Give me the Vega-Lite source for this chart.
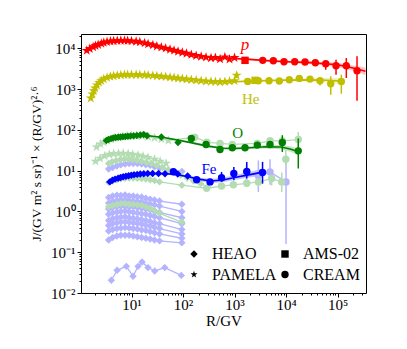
{
"$schema":"https://vega.github.io/schema/vega-lite/v6.json",
"width":285,"height":259,
"autosize":"none",
"padding":{"left":81,"top":34,"right":41,"bottom":56},
"config":{"view":{"stroke":"black","strokeWidth":1},"font":"Liberation Serif","legend":{"labelFont":"Liberation Serif"},"axis":{"labelFont":"Liberation Serif","titleFont":"Liberation Serif"},"text":{"font":"Liberation Serif"}},
"datasets":{
"pts":[
{"s":"lb1","g":"lb","e":"HEAO","R":3.6,"J":2.2},{"s":"lb1","g":"lb","e":"HEAO","R":4.3,"J":2.4},{"s":"lb1","g":"lb","e":"HEAO","R":5.2,"J":2.5},{"s":"lb1","g":"lb","e":"HEAO","R":6.2,"J":2.45},{"s":"lb1","g":"lb","e":"HEAO","R":7.5,"J":2.55},{"s":"lb1","g":"lb","e":"HEAO","R":9,"J":2.4},{"s":"lb1","g":"lb","e":"HEAO","R":10.8,"J":2.4},{"s":"lb1","g":"lb","e":"HEAO","R":13,"J":2.3},{"s":"lb1","g":"lb","e":"HEAO","R":15.7,"J":2.25},{"s":"lb1","g":"lb","e":"HEAO","R":19,"J":2.1},{"s":"lb1","g":"lb","e":"HEAO","R":23,"J":2.0},{"s":"lb1","g":"lb","e":"HEAO","R":28,"J":1.9},{"s":"lb1","g":"lb","e":"HEAO","R":35,"J":1.8},{"s":"lb1","g":"lb","e":"HEAO","R":95,"J":1.5},
{"s":"lb2","g":"lb","e":"HEAO","R":3.6,"J":1.6},{"s":"lb2","g":"lb","e":"HEAO","R":4.3,"J":1.75},{"s":"lb2","g":"lb","e":"HEAO","R":5.2,"J":1.85},{"s":"lb2","g":"lb","e":"HEAO","R":6.2,"J":1.9},{"s":"lb2","g":"lb","e":"HEAO","R":7.5,"J":1.95},{"s":"lb2","g":"lb","e":"HEAO","R":9,"J":1.85},{"s":"lb2","g":"lb","e":"HEAO","R":10.8,"J":1.8},{"s":"lb2","g":"lb","e":"HEAO","R":13,"J":1.75},{"s":"lb2","g":"lb","e":"HEAO","R":15.7,"J":1.7},{"s":"lb2","g":"lb","e":"HEAO","R":19,"J":1.6},{"s":"lb2","g":"lb","e":"HEAO","R":23,"J":1.5},{"s":"lb2","g":"lb","e":"HEAO","R":28,"J":1.45},{"s":"lb2","g":"lb","e":"HEAO","R":35,"J":1.35},{"s":"lb2","g":"lb","e":"HEAO","R":95,"J":1.0},
{"s":"lb3","g":"lb","e":"HEAO","R":3.6,"J":1.15},{"s":"lb3","g":"lb","e":"HEAO","R":4.3,"J":1.25},{"s":"lb3","g":"lb","e":"HEAO","R":5.2,"J":1.3},{"s":"lb3","g":"lb","e":"HEAO","R":6.2,"J":1.35},{"s":"lb3","g":"lb","e":"HEAO","R":7.5,"J":1.32},{"s":"lb3","g":"lb","e":"HEAO","R":9,"J":1.3},{"s":"lb3","g":"lb","e":"HEAO","R":10.8,"J":1.3},{"s":"lb3","g":"lb","e":"HEAO","R":13,"J":1.25},{"s":"lb3","g":"lb","e":"HEAO","R":15.7,"J":1.2},{"s":"lb3","g":"lb","e":"HEAO","R":19,"J":1.15},{"s":"lb3","g":"lb","e":"HEAO","R":23,"J":1.1},{"s":"lb3","g":"lb","e":"HEAO","R":28,"J":1.0},{"s":"lb3","g":"lb","e":"HEAO","R":35,"J":0.95},{"s":"lb3","g":"lb","e":"HEAO","R":95,"J":0.7},
{"s":"lb4","g":"lb","e":"HEAO","R":3.6,"J":0.85},{"s":"lb4","g":"lb","e":"HEAO","R":4.3,"J":0.92},{"s":"lb4","g":"lb","e":"HEAO","R":5.2,"J":0.97},{"s":"lb4","g":"lb","e":"HEAO","R":6.2,"J":1.0},{"s":"lb4","g":"lb","e":"HEAO","R":7.5,"J":1.02},{"s":"lb4","g":"lb","e":"HEAO","R":9,"J":0.98},{"s":"lb4","g":"lb","e":"HEAO","R":10.8,"J":0.95},{"s":"lb4","g":"lb","e":"HEAO","R":13,"J":0.92},{"s":"lb4","g":"lb","e":"HEAO","R":15.7,"J":0.88},{"s":"lb4","g":"lb","e":"HEAO","R":19,"J":0.85},{"s":"lb4","g":"lb","e":"HEAO","R":23,"J":0.8},{"s":"lb4","g":"lb","e":"HEAO","R":28,"J":0.75},{"s":"lb4","g":"lb","e":"HEAO","R":35,"J":0.7},{"s":"lb4","g":"lb","e":"HEAO","R":95,"J":0.5},
{"s":"lb5","g":"lb","e":"HEAO","R":3.6,"J":0.6},{"s":"lb5","g":"lb","e":"HEAO","R":4.3,"J":0.66},{"s":"lb5","g":"lb","e":"HEAO","R":5.2,"J":0.7},{"s":"lb5","g":"lb","e":"HEAO","R":6.2,"J":0.72},{"s":"lb5","g":"lb","e":"HEAO","R":7.5,"J":0.74},{"s":"lb5","g":"lb","e":"HEAO","R":9,"J":0.7},{"s":"lb5","g":"lb","e":"HEAO","R":10.8,"J":0.68},{"s":"lb5","g":"lb","e":"HEAO","R":13,"J":0.66},{"s":"lb5","g":"lb","e":"HEAO","R":15.7,"J":0.63},{"s":"lb5","g":"lb","e":"HEAO","R":19,"J":0.6},{"s":"lb5","g":"lb","e":"HEAO","R":23,"J":0.57},{"s":"lb5","g":"lb","e":"HEAO","R":28,"J":0.53},{"s":"lb5","g":"lb","e":"HEAO","R":35,"J":0.5},{"s":"lb5","g":"lb","e":"HEAO","R":95,"J":0.36},
{"s":"lb6","g":"lb","e":"HEAO","R":3.6,"J":0.45},{"s":"lb6","g":"lb","e":"HEAO","R":4.3,"J":0.5},{"s":"lb6","g":"lb","e":"HEAO","R":5.2,"J":0.53},{"s":"lb6","g":"lb","e":"HEAO","R":6.2,"J":0.55},{"s":"lb6","g":"lb","e":"HEAO","R":7.5,"J":0.56},{"s":"lb6","g":"lb","e":"HEAO","R":9,"J":0.54},{"s":"lb6","g":"lb","e":"HEAO","R":10.8,"J":0.53},{"s":"lb6","g":"lb","e":"HEAO","R":13,"J":0.51},{"s":"lb6","g":"lb","e":"HEAO","R":15.7,"J":0.49},{"s":"lb6","g":"lb","e":"HEAO","R":19,"J":0.46},{"s":"lb6","g":"lb","e":"HEAO","R":23,"J":0.44},{"s":"lb6","g":"lb","e":"HEAO","R":28,"J":0.41},{"s":"lb6","g":"lb","e":"HEAO","R":35,"J":0.38},{"s":"lb6","g":"lb","e":"HEAO","R":95,"J":0.28},
{"s":"lb7","g":"lb","e":"HEAO","R":3.6,"J":0.33},{"s":"lb7","g":"lb","e":"HEAO","R":4.3,"J":0.36},{"s":"lb7","g":"lb","e":"HEAO","R":5.2,"J":0.38},{"s":"lb7","g":"lb","e":"HEAO","R":6.2,"J":0.39},{"s":"lb7","g":"lb","e":"HEAO","R":7.5,"J":0.4},{"s":"lb7","g":"lb","e":"HEAO","R":9,"J":0.39},{"s":"lb7","g":"lb","e":"HEAO","R":10.8,"J":0.38},{"s":"lb7","g":"lb","e":"HEAO","R":13,"J":0.37},{"s":"lb7","g":"lb","e":"HEAO","R":15.7,"J":0.35},{"s":"lb7","g":"lb","e":"HEAO","R":19,"J":0.34},{"s":"lb7","g":"lb","e":"HEAO","R":23,"J":0.32},{"s":"lb7","g":"lb","e":"HEAO","R":28,"J":0.3},{"s":"lb7","g":"lb","e":"HEAO","R":35,"J":0.28},{"s":"lb7","g":"lb","e":"HEAO","R":95,"J":0.22},
{"s":"lb8","g":"lb","e":"HEAO","R":3.6,"J":0.2},{"s":"lb8","g":"lb","e":"HEAO","R":4.3,"J":0.23},{"s":"lb8","g":"lb","e":"HEAO","R":5.2,"J":0.25},{"s":"lb8","g":"lb","e":"HEAO","R":6.2,"J":0.26},{"s":"lb8","g":"lb","e":"HEAO","R":7.5,"J":0.26},{"s":"lb8","g":"lb","e":"HEAO","R":9,"J":0.26},{"s":"lb8","g":"lb","e":"HEAO","R":10.8,"J":0.25},{"s":"lb8","g":"lb","e":"HEAO","R":13,"J":0.24},{"s":"lb8","g":"lb","e":"HEAO","R":15.7,"J":0.23},{"s":"lb8","g":"lb","e":"HEAO","R":19,"J":0.22},{"s":"lb8","g":"lb","e":"HEAO","R":23,"J":0.21},{"s":"lb8","g":"lb","e":"HEAO","R":28,"J":0.2},{"s":"lb8","g":"lb","e":"HEAO","R":35,"J":0.19},{"s":"lb8","g":"lb","e":"HEAO","R":95,"J":0.17},
{"s":"lb9","g":"lb","e":"HEAO","R":4.06,"J":0.0205},{"s":"lb9","g":"lb","e":"HEAO","R":5.25,"J":0.036},{"s":"lb9","g":"lb","e":"HEAO","R":7.94,"J":0.045},{"s":"lb9","g":"lb","e":"HEAO","R":10.7,"J":0.0257},{"s":"lb9","g":"lb","e":"HEAO","R":13.4,"J":0.045},{"s":"lb9","g":"lb","e":"HEAO","R":16,"J":0.0577},{"s":"lb9","g":"lb","e":"HEAO","R":20.9,"J":0.042},{"s":"lb9","g":"lb","e":"HEAO","R":28.2,"J":0.0347},{"s":"lb9","g":"lb","e":"HEAO","R":44.2,"J":0.042},{"s":"lb9","g":"lb","e":"HEAO","R":92.6,"J":0.027},
{"s":"lbA","g":"lb","e":"HEAO","R":3.6,"J":11},{"s":"lbA","g":"lb","e":"HEAO","R":4.3,"J":12},{"s":"lbA","g":"lb","e":"HEAO","R":5.2,"J":13},{"s":"lbA","g":"lb","e":"HEAO","R":6.2,"J":14},{"s":"lbA","g":"lb","e":"HEAO","R":7.5,"J":14.5},{"s":"lbA","g":"lb","e":"HEAO","R":9,"J":15},{"s":"lbA","g":"lb","e":"HEAO","R":10.8,"J":15},{"s":"lbA","g":"lb","e":"HEAO","R":13,"J":15},{"s":"lbA","g":"lb","e":"HEAO","R":15.7,"J":14.5},{"s":"lbA","g":"lb","e":"HEAO","R":19,"J":14},{"s":"lbA","g":"lb","e":"HEAO","R":23,"J":13.5},{"s":"lbA","g":"lb","e":"HEAO","R":28,"J":12.5},{"s":"lbA","g":"lb","e":"HEAO","R":35,"J":11.5},{"s":"lbA","g":"lb","e":"HEAO","R":95,"J":9.5},
{"s":"lbB","g":"lb","e":"CREAM","R":1700,"J":8.5,"lo":5,"hi":14},{"s":"lbB","g":"lb","e":"CREAM","R":2900,"J":7.5,"lo":3,"hi":17.8},{"s":"lbB","g":"lb","e":"CREAM","R":4890,"J":9.3,"lo":4.5,"hi":19},{"s":"lbB","g":"lb","e":"CREAM","R":10000,"J":5.3,"lo":0.16,"hi":19},
{"s":"lgL","g":"lg","e":"HEAO","R":3.6,"J":1.3},{"s":"lgL","g":"lg","e":"HEAO","R":4.3,"J":1.4},{"s":"lgL","g":"lg","e":"HEAO","R":5.2,"J":1.5},{"s":"lgL","g":"lg","e":"HEAO","R":6.2,"J":1.55},{"s":"lgL","g":"lg","e":"HEAO","R":7.5,"J":1.55},{"s":"lgL","g":"lg","e":"HEAO","R":9,"J":1.5},{"s":"lgL","g":"lg","e":"HEAO","R":10.8,"J":1.5},{"s":"lgL","g":"lg","e":"HEAO","R":13,"J":1.45},{"s":"lgL","g":"lg","e":"HEAO","R":15.7,"J":1.4},{"s":"lgL","g":"lg","e":"HEAO","R":19,"J":1.3},{"s":"lgL","g":"lg","e":"HEAO","R":23,"J":1.2},{"s":"lgL","g":"lg","e":"HEAO","R":28,"J":1.05},{"s":"lgL","g":"lg","e":"HEAO","R":35,"J":0.9},{"s":"lgL","g":"lg","e":"HEAO","R":95,"J":0.55},
{"s":"lgD","g":"lg","e":"HEAO","R":3.6,"J":5.2},{"s":"lgD","g":"lg","e":"HEAO","R":4.3,"J":5.6},{"s":"lgD","g":"lg","e":"HEAO","R":5.2,"J":6.0},{"s":"lgD","g":"lg","e":"HEAO","R":6.2,"J":6.3},{"s":"lgD","g":"lg","e":"HEAO","R":7.5,"J":6.5},{"s":"lgD","g":"lg","e":"HEAO","R":9,"J":6.6},{"s":"lgD","g":"lg","e":"HEAO","R":10.8,"J":6.6},{"s":"lgD","g":"lg","e":"HEAO","R":13,"J":6.5},{"s":"lgD","g":"lg","e":"HEAO","R":15.7,"J":6.4},{"s":"lgD","g":"lg","e":"HEAO","R":19,"J":6.2},{"s":"lgD","g":"lg","e":"HEAO","R":23,"J":6.0},{"s":"lgD","g":"lg","e":"HEAO","R":28,"J":5.7},{"s":"lgD","g":"lg","e":"HEAO","R":35,"J":5.3},{"s":"lgD","g":"lg","e":"HEAO","R":95,"J":4.4},
{"s":"lgD","g":"lg","e":"CREAM","R":288,"J":3.7},{"s":"lgD","g":"lg","e":"CREAM","R":560,"J":4.2},{"s":"lgD","g":"lg","e":"CREAM","R":950,"J":4.5,"lo":3.8,"hi":5.3},{"s":"lgD","g":"lg","e":"CREAM","R":1730,"J":4.9,"lo":4.0,"hi":6.0},{"s":"lgD","g":"lg","e":"CREAM","R":2900,"J":5.3,"lo":3.9,"hi":7.2},{"s":"lgD","g":"lg","e":"CREAM","R":5270,"J":6.4,"lo":4.3,"hi":9.5},{"s":"lgD","g":"lg","e":"CREAM","R":8260,"J":5.3,"lo":3.0,"hi":9.0},
{"s":"lgA","g":"lg","e":"PAMELA","R":2.0,"J":17},{"s":"lgA","g":"lg","e":"PAMELA","R":2.45,"J":20},{"s":"lgA","g":"lg","e":"PAMELA","R":3.0,"J":23},{"s":"lgA","g":"lg","e":"PAMELA","R":3.7,"J":25},{"s":"lgA","g":"lg","e":"PAMELA","R":4.5,"J":26},{"s":"lgA","g":"lg","e":"PAMELA","R":5.6,"J":26.5},{"s":"lgA","g":"lg","e":"PAMELA","R":6.9,"J":26.5},{"s":"lgA","g":"lg","e":"PAMELA","R":8.6,"J":26},{"s":"lgA","g":"lg","e":"PAMELA","R":10.6,"J":25},{"s":"lgA","g":"lg","e":"PAMELA","R":13.4,"J":24},{"s":"lgA","g":"lg","e":"PAMELA","R":16.8,"J":22.5},{"s":"lgA","g":"lg","e":"PAMELA","R":21,"J":21},{"s":"lgA","g":"lg","e":"PAMELA","R":28,"J":19},{"s":"lgA","g":"lg","e":"PAMELA","R":36,"J":17},{"s":"lgA","g":"lg","e":"PAMELA","R":47,"J":15},
{"s":"lgB","g":"lg","e":"HEAO","R":3.6,"J":15},{"s":"lgB","g":"lg","e":"HEAO","R":4.2,"J":16.5},{"s":"lgB","g":"lg","e":"HEAO","R":5.0,"J":17.5},{"s":"lgB","g":"lg","e":"HEAO","R":6.0,"J":18.5},{"s":"lgB","g":"lg","e":"HEAO","R":7.2,"J":19},{"s":"lgB","g":"lg","e":"HEAO","R":8.7,"J":19},{"s":"lgB","g":"lg","e":"HEAO","R":10.5,"J":18.5},{"s":"lgB","g":"lg","e":"HEAO","R":12.8,"J":18},{"s":"lgB","g":"lg","e":"HEAO","R":15.7,"J":17},{"s":"lgB","g":"lg","e":"HEAO","R":19.5,"J":16},{"s":"lgB","g":"lg","e":"HEAO","R":24.5,"J":15},{"s":"lgB","g":"lg","e":"HEAO","R":31,"J":13.5},{"s":"lgB","g":"lg","e":"HEAO","R":40,"J":12},{"s":"lgB","g":"lg","e":"HEAO","R":52,"J":10.5},{"s":"lgB","g":"lg","e":"HEAO","R":68,"J":9},{"s":"lgB","g":"lg","e":"HEAO","R":90,"J":7.8},{"s":"lgB","g":"lg","e":"HEAO","R":120,"J":6.6},{"s":"lgB","g":"lg","e":"HEAO","R":160,"J":5.6},{"s":"lgB","g":"lg","e":"HEAO","R":220,"J":4.8},{"s":"lgB","g":"lg","e":"HEAO","R":300,"J":4.0},
{"s":"lgC","g":"lg","e":"PAMELA","R":2.1,"J":38},{"s":"lgC","g":"lg","e":"PAMELA","R":2.5,"J":45},{"s":"lgC","g":"lg","e":"PAMELA","R":2.9,"J":50},{"s":"lgC","g":"lg","e":"PAMELA","R":3.4,"J":55},{"s":"lgC","g":"lg","e":"PAMELA","R":4.0,"J":59},{"s":"lgC","g":"lg","e":"PAMELA","R":4.7,"J":63},{"s":"lgC","g":"lg","e":"PAMELA","R":5.6,"J":66},{"s":"lgC","g":"lg","e":"PAMELA","R":6.7,"J":69},{"s":"lgC","g":"lg","e":"PAMELA","R":8.2,"J":71},{"s":"lgC","g":"lg","e":"PAMELA","R":10,"J":72},{"s":"lgC","g":"lg","e":"PAMELA","R":12.5,"J":72},{"s":"lgC","g":"lg","e":"PAMELA","R":16,"J":71},{"s":"lgC","g":"lg","e":"PAMELA","R":21,"J":68},{"s":"lgC","g":"lg","e":"PAMELA","R":28,"J":64},{"s":"lgC","g":"lg","e":"PAMELA","R":38,"J":60},{"s":"lgC","g":"lg","e":"PAMELA","R":52,"J":55},
{"s":"lgC","g":"lg","e":"CREAM","R":169,"J":66},{"s":"lgC","g":"lg","e":"CREAM","R":290,"J":50},{"s":"lgC","g":"lg","e":"CREAM","R":523,"J":46.5},{"s":"lgC","g":"lg","e":"CREAM","R":906,"J":44},{"s":"lgC","g":"lg","e":"CREAM","R":2770,"J":46.5},{"s":"lgC","g":"lg","e":"CREAM","R":4890,"J":54},{"s":"lgC","g":"lg","e":"CREAM","R":8470,"J":54},{"s":"lgC","g":"lg","e":"CREAM","R":17300,"J":58,"lo":26,"hi":89},
{"s":"lgE","g":"lg","e":"CREAM","R":9900,"J":19,"lo":13,"hi":32},
{"s":"p1","g":"p","e":"PAMELA","R":1.35,"J":8800},{"s":"p1","g":"p","e":"PAMELA","R":1.55,"J":9800},{"s":"p1","g":"p","e":"PAMELA","R":1.8,"J":10800},{"s":"p1","g":"p","e":"PAMELA","R":2.0,"J":11600},{"s":"p1","g":"p","e":"PAMELA","R":2.25,"J":12300},{"s":"p1","g":"p","e":"PAMELA","R":2.6,"J":13100},{"s":"p1","g":"p","e":"PAMELA","R":2.9,"J":13800},{"s":"p1","g":"p","e":"PAMELA","R":3.35,"J":14400},{"s":"p1","g":"p","e":"PAMELA","R":3.9,"J":14900},{"s":"p1","g":"p","e":"PAMELA","R":4.5,"J":15200},{"s":"p1","g":"p","e":"PAMELA","R":5.3,"J":15400},{"s":"p1","g":"p","e":"PAMELA","R":6.2,"J":15500},{"s":"p1","g":"p","e":"PAMELA","R":7.3,"J":15500},{"s":"p1","g":"p","e":"PAMELA","R":8.4,"J":15400},{"s":"p1","g":"p","e":"PAMELA","R":10,"J":15100},{"s":"p1","g":"p","e":"PAMELA","R":12.3,"J":14700},{"s":"p1","g":"p","e":"PAMELA","R":14.5,"J":14200},{"s":"p1","g":"p","e":"PAMELA","R":18,"J":13500},{"s":"p1","g":"p","e":"PAMELA","R":21,"J":12800},{"s":"p1","g":"p","e":"PAMELA","R":26,"J":12100},{"s":"p1","g":"p","e":"PAMELA","R":31,"J":11300},{"s":"p1","g":"p","e":"PAMELA","R":38,"J":10600},{"s":"p1","g":"p","e":"PAMELA","R":46,"J":10000},{"s":"p1","g":"p","e":"PAMELA","R":56,"J":9400},{"s":"p1","g":"p","e":"PAMELA","R":67,"J":8900},{"s":"p1","g":"p","e":"PAMELA","R":80,"J":8400},{"s":"p1","g":"p","e":"PAMELA","R":97,"J":7900},{"s":"p1","g":"p","e":"PAMELA","R":117,"J":7500},{"s":"p1","g":"p","e":"PAMELA","R":145,"J":7000},{"s":"p1","g":"p","e":"PAMELA","R":180,"J":6600},{"s":"p1","g":"p","e":"PAMELA","R":225,"J":6300},{"s":"p1","g":"p","e":"PAMELA","R":280,"J":6000},{"s":"p1","g":"p","e":"PAMELA","R":350,"J":5800},{"s":"p1","g":"p","e":"PAMELA","R":425,"J":5900},{"s":"p1","g":"p","e":"PAMELA","R":525,"J":5500},{"s":"p1","g":"p","e":"PAMELA","R":650,"J":6100},{"s":"p1","g":"p","e":"PAMELA","R":800,"J":5400},{"s":"p1","g":"p","e":"PAMELA","R":1000,"J":5900},
{"s":"p2","g":"p","e":"AMS-02","R":1600,"J":5070},
{"s":"p3","g":"p","e":"CREAM","R":3530,"J":5070},{"s":"p3","g":"p","e":"CREAM","R":5670,"J":4960},{"s":"p3","g":"p","e":"CREAM","R":9140,"J":4690},{"s":"p3","g":"p","e":"CREAM","R":14750,"J":4690},{"s":"p3","g":"p","e":"CREAM","R":23400,"J":4600},{"s":"p3","g":"p","e":"CREAM","R":37100,"J":4430,"lo":3800,"hi":5070},{"s":"p3","g":"p","e":"CREAM","R":59000,"J":4190,"lo":2980,"hi":4800},{"s":"p3","g":"p","e":"CREAM","R":93500,"J":3740,"lo":2250,"hi":5250},{"s":"p3","g":"p","e":"CREAM","R":148000,"J":3740,"lo":1870,"hi":5770},{"s":"p3","g":"p","e":"CREAM","R":239000,"J":2820,"lo":520,"hi":6360},
{"s":"He1","g":"He","e":"PAMELA","R":1.62,"J":600},{"s":"He1","g":"He","e":"PAMELA","R":1.74,"J":750},{"s":"He1","g":"He","e":"PAMELA","R":1.85,"J":900},{"s":"He1","g":"He","e":"PAMELA","R":1.96,"J":1050},{"s":"He1","g":"He","e":"PAMELA","R":2.13,"J":1250},{"s":"He1","g":"He","e":"PAMELA","R":2.35,"J":1450},{"s":"He1","g":"He","e":"PAMELA","R":2.58,"J":1600},{"s":"He1","g":"He","e":"PAMELA","R":2.9,"J":1780},{"s":"He1","g":"He","e":"PAMELA","R":3.35,"J":1920},{"s":"He1","g":"He","e":"PAMELA","R":3.9,"J":2030},{"s":"He1","g":"He","e":"PAMELA","R":4.5,"J":2100},{"s":"He1","g":"He","e":"PAMELA","R":5.3,"J":2170},{"s":"He1","g":"He","e":"PAMELA","R":6.2,"J":2210},{"s":"He1","g":"He","e":"PAMELA","R":7.3,"J":2240},{"s":"He1","g":"He","e":"PAMELA","R":8.4,"J":2250},{"s":"He1","g":"He","e":"PAMELA","R":10,"J":2260},{"s":"He1","g":"He","e":"PAMELA","R":12.3,"J":2250},{"s":"He1","g":"He","e":"PAMELA","R":14.5,"J":2240},{"s":"He1","g":"He","e":"PAMELA","R":18,"J":2210},{"s":"He1","g":"He","e":"PAMELA","R":21,"J":2180},{"s":"He1","g":"He","e":"PAMELA","R":26,"J":2140},{"s":"He1","g":"He","e":"PAMELA","R":31,"J":2100},{"s":"He1","g":"He","e":"PAMELA","R":38,"J":2050},{"s":"He1","g":"He","e":"PAMELA","R":46,"J":2000},{"s":"He1","g":"He","e":"PAMELA","R":56,"J":1950},{"s":"He1","g":"He","e":"PAMELA","R":67,"J":1900},{"s":"He1","g":"He","e":"PAMELA","R":80,"J":1850},{"s":"He1","g":"He","e":"PAMELA","R":97,"J":1800},{"s":"He1","g":"He","e":"PAMELA","R":117,"J":1750},{"s":"He1","g":"He","e":"PAMELA","R":145,"J":1700},{"s":"He1","g":"He","e":"PAMELA","R":180,"J":1650},{"s":"He1","g":"He","e":"PAMELA","R":225,"J":1600},{"s":"He1","g":"He","e":"PAMELA","R":280,"J":1560},{"s":"He1","g":"He","e":"PAMELA","R":350,"J":1530},{"s":"He1","g":"He","e":"PAMELA","R":425,"J":1510},{"s":"He1","g":"He","e":"PAMELA","R":525,"J":1500},{"s":"He1","g":"He","e":"PAMELA","R":650,"J":1520},{"s":"He1","g":"He","e":"PAMELA","R":800,"J":1550},{"s":"He1","g":"He","e":"PAMELA","R":1000,"J":1600},{"s":"He1","g":"He","e":"PAMELA","R":1100,"J":2170,"lo":1850,"hi":2600},
{"s":"He2","g":"He","e":"AMS-02","R":2500,"J":1640},
{"s":"He3","g":"He","e":"CREAM","R":1800,"J":1546},{"s":"He3","g":"He","e":"CREAM","R":2900,"J":1600},{"s":"He3","g":"He","e":"CREAM","R":4680,"J":1600},{"s":"He3","g":"He","e":"CREAM","R":7410,"J":1573},{"s":"He3","g":"He","e":"CREAM","R":11600,"J":1690},{"s":"He3","g":"He","e":"CREAM","R":18100,"J":1830},{"s":"He3","g":"He","e":"CREAM","R":29200,"J":1760,"lo":1490,"hi":2050},{"s":"He3","g":"He","e":"CREAM","R":45700,"J":1600,"lo":1230,"hi":1940},{"s":"He3","g":"He","e":"CREAM","R":73800,"J":1349,"lo":725,"hi":2050},{"s":"He3","g":"He","e":"CREAM","R":118600,"J":1546,"lo":770,"hi":2250},
{"s":"O1","g":"O","e":"HEAO","R":3.25,"J":55},{"s":"O1","g":"O","e":"HEAO","R":3.6,"J":58},{"s":"O1","g":"O","e":"HEAO","R":4.0,"J":61},{"s":"O1","g":"O","e":"HEAO","R":4.4,"J":63},{"s":"O1","g":"O","e":"HEAO","R":4.9,"J":65},{"s":"O1","g":"O","e":"HEAO","R":5.5,"J":66},{"s":"O1","g":"O","e":"HEAO","R":6.1,"J":67},{"s":"O1","g":"O","e":"HEAO","R":6.8,"J":68},{"s":"O1","g":"O","e":"HEAO","R":7.6,"J":69},{"s":"O1","g":"O","e":"HEAO","R":8.5,"J":70},{"s":"O1","g":"O","e":"HEAO","R":9.6,"J":71},{"s":"O1","g":"O","e":"HEAO","R":11,"J":72},{"s":"O1","g":"O","e":"HEAO","R":12.7,"J":73},{"s":"O1","g":"O","e":"HEAO","R":14.8,"J":75},{"s":"O1","g":"O","e":"HEAO","R":17.3,"J":77},{"s":"O1","g":"O","e":"HEAO","R":20,"J":72},{"s":"O1","g":"O","e":"HEAO","R":38,"J":67},{"s":"O1","g":"O","e":"HEAO","R":80,"J":49},
{"s":"O3","g":"O","e":"CREAM","R":145,"J":61.7},{"s":"O3","g":"O","e":"CREAM","R":280,"J":43.9},{"s":"O3","g":"O","e":"CREAM","R":523,"J":33.1},{"s":"O3","g":"O","e":"CREAM","R":906,"J":36.4},{"s":"O3","g":"O","e":"CREAM","R":1600,"J":36.4},{"s":"O3","g":"O","e":"CREAM","R":2770,"J":42.3,"lo":38,"hi":47},{"s":"O3","g":"O","e":"CREAM","R":4890,"J":43.9,"lo":38,"hi":51},{"s":"O3","g":"O","e":"CREAM","R":8470,"J":49.2,"lo":28.8,"hi":74},{"s":"O3","g":"O","e":"CREAM","R":17300,"J":30.6,"lo":11.3,"hi":61.5},
{"s":"Fe1","g":"Fe","e":"HEAO","R":3.8,"J":5.3},{"s":"Fe1","g":"Fe","e":"HEAO","R":4.25,"J":5.8},{"s":"Fe1","g":"Fe","e":"HEAO","R":4.8,"J":6.2},{"s":"Fe1","g":"Fe","e":"HEAO","R":5.5,"J":6.5},{"s":"Fe1","g":"Fe","e":"HEAO","R":6.15,"J":6.8},{"s":"Fe1","g":"Fe","e":"HEAO","R":6.9,"J":7.1},{"s":"Fe1","g":"Fe","e":"HEAO","R":7.8,"J":7.3},{"s":"Fe1","g":"Fe","e":"HEAO","R":8.8,"J":7.5},{"s":"Fe1","g":"Fe","e":"HEAO","R":9.9,"J":7.7},{"s":"Fe1","g":"Fe","e":"HEAO","R":11.2,"J":7.9},{"s":"Fe1","g":"Fe","e":"HEAO","R":12.9,"J":8.1},{"s":"Fe1","g":"Fe","e":"HEAO","R":14.8,"J":8.3},{"s":"Fe1","g":"Fe","e":"HEAO","R":17.3,"J":8.4},{"s":"Fe1","g":"Fe","e":"HEAO","R":20.7,"J":8.5},{"s":"Fe1","g":"Fe","e":"HEAO","R":25.7,"J":8.5},{"s":"Fe1","g":"Fe","e":"HEAO","R":33.5,"J":8.5},{"s":"Fe1","g":"Fe","e":"HEAO","R":44.7,"J":8.4},{"s":"Fe1","g":"Fe","e":"HEAO","R":79,"J":8.3},{"s":"Fe1","g":"Fe","e":"HEAO","R":123,"J":7.4},
{"s":"Fe3","g":"Fe","e":"CREAM","R":65,"J":9.4},{"s":"Fe3","g":"Fe","e":"CREAM","R":184,"J":6.0},{"s":"Fe3","g":"Fe","e":"CREAM","R":335,"J":5.3,"lo":4.7,"hi":6.0},{"s":"Fe3","g":"Fe","e":"CREAM","R":560,"J":6.7,"lo":5.3,"hi":9.3},{"s":"Fe3","g":"Fe","e":"CREAM","R":970,"J":8.5,"lo":5.8,"hi":12.3},{"s":"Fe3","g":"Fe","e":"CREAM","R":1730,"J":9.6,"lo":6.4,"hi":16.4},{"s":"Fe3","g":"Fe","e":"CREAM","R":3500,"J":9.0,"lo":4.8,"hi":16.4}
],
"mod":[
{"s":"mp","g":"p","R":1.35,"J":8900},{"s":"mp","g":"p","R":1.8,"J":10900},{"s":"mp","g":"p","R":2.5,"J":12900},{"s":"mp","g":"p","R":3.5,"J":14500},{"s":"mp","g":"p","R":5,"J":15300},{"s":"mp","g":"p","R":7,"J":15500},{"s":"mp","g":"p","R":10,"J":15100},{"s":"mp","g":"p","R":15,"J":14100},{"s":"mp","g":"p","R":25,"J":12300},{"s":"mp","g":"p","R":40,"J":10500},{"s":"mp","g":"p","R":70,"J":8800},{"s":"mp","g":"p","R":120,"J":7500},{"s":"mp","g":"p","R":200,"J":6600},{"s":"mp","g":"p","R":400,"J":5900},{"s":"mp","g":"p","R":1000,"J":5650,"lo":5400,"hi":5900},{"s":"mp","g":"p","R":2000,"J":5350,"lo":5050,"hi":5650},{"s":"mp","g":"p","R":3500,"J":5050,"lo":4800,"hi":5300},{"s":"mp","g":"p","R":10000,"J":4700,"lo":4400,"hi":5000},{"s":"mp","g":"p","R":30000,"J":4450,"lo":4100,"hi":4800},{"s":"mp","g":"p","R":100000,"J":3950,"lo":3500,"hi":4400},{"s":"mp","g":"p","R":200000,"J":3300,"lo":2800,"hi":3800},{"s":"mp","g":"p","R":350000,"J":2750,"lo":2200,"hi":3400},
{"s":"mHe","g":"He","R":1.62,"J":620},{"s":"mHe","g":"He","R":1.8,"J":950},{"s":"mHe","g":"He","R":2.1,"J":1300},{"s":"mHe","g":"He","R":2.6,"J":1650},{"s":"mHe","g":"He","R":3.5,"J":1950},{"s":"mHe","g":"He","R":5,"J":2150},{"s":"mHe","g":"He","R":8,"J":2240},{"s":"mHe","g":"He","R":12,"J":2250},{"s":"mHe","g":"He","R":20,"J":2200},{"s":"mHe","g":"He","R":40,"J":2050},{"s":"mHe","g":"He","R":80,"J":1870},{"s":"mHe","g":"He","R":150,"J":1720},{"s":"mHe","g":"He","R":300,"J":1570},{"s":"mHe","g":"He","R":600,"J":1510},{"s":"mHe","g":"He","R":1000,"J":1520,"lo":1470,"hi":1570},{"s":"mHe","g":"He","R":2000,"J":1570,"lo":1500,"hi":1640},{"s":"mHe","g":"He","R":5000,"J":1620,"lo":1530,"hi":1710},{"s":"mHe","g":"He","R":10000,"J":1660,"lo":1550,"hi":1780},{"s":"mHe","g":"He","R":30000,"J":1680,"lo":1530,"hi":1850},{"s":"mHe","g":"He","R":60000,"J":1650,"lo":1450,"hi":1880},{"s":"mHe","g":"He","R":120000,"J":1570,"lo":1320,"hi":1870},
{"s":"mO","g":"O","R":3.25,"J":56},{"s":"mO","g":"O","R":5,"J":64},{"s":"mO","g":"O","R":10,"J":71},{"s":"mO","g":"O","R":20,"J":72},{"s":"mO","g":"O","R":40,"J":66},{"s":"mO","g":"O","R":80,"J":56},{"s":"mO","g":"O","R":150,"J":48,"lo":45,"hi":51},{"s":"mO","g":"O","R":300,"J":40,"lo":37.5,"hi":42.5},{"s":"mO","g":"O","R":600,"J":35.5,"lo":33,"hi":38},{"s":"mO","g":"O","R":1000,"J":35,"lo":32.5,"hi":37.8},{"s":"mO","g":"O","R":2000,"J":36.5,"lo":33.5,"hi":39.8},{"s":"mO","g":"O","R":4000,"J":38.5,"lo":35,"hi":42.5},{"s":"mO","g":"O","R":8000,"J":38,"lo":33.5,"hi":43},{"s":"mO","g":"O","R":12000,"J":34,"lo":29,"hi":39.5},{"s":"mO","g":"O","R":17300,"J":29,"lo":24,"hi":35},
{"s":"mFe","g":"Fe","R":3.8,"J":5.3},{"s":"mFe","g":"Fe","R":6,"J":6.8},{"s":"mFe","g":"Fe","R":10,"J":7.8},{"s":"mFe","g":"Fe","R":20,"J":8.4},{"s":"mFe","g":"Fe","R":40,"J":8.5},{"s":"mFe","g":"Fe","R":70,"J":8.1},{"s":"mFe","g":"Fe","R":120,"J":7.2,"lo":6.6,"hi":7.8},{"s":"mFe","g":"Fe","R":200,"J":6.2,"lo":5.6,"hi":6.8},{"s":"mFe","g":"Fe","R":350,"J":5.6,"lo":5.0,"hi":6.3},{"s":"mFe","g":"Fe","R":600,"J":5.9,"lo":5.2,"hi":6.7},{"s":"mFe","g":"Fe","R":1000,"J":6.8,"lo":5.9,"hi":7.8},{"s":"mFe","g":"Fe","R":2000,"J":8.0,"lo":6.8,"hi":9.4},{"s":"mFe","g":"Fe","R":3500,"J":9.2,"lo":7.6,"hi":11.2}
],
"lbl":[
{"t":"p","g":"p","R":1600,"J":12250},
{"t":"He","g":"He","R":2065,"J":580},
{"t":"O","g":"O","R":1153,"J":84.7},
{"t":"Fe","g":"Fe","R":320,"J":10.7}
]
},
"encoding":{
"x":{"field":"R","type":"quantitative","scale":{"type":"log","domain":[1.046,357000],"nice":false},
"axis":{"title":"R/GV","values":[2,3,4,5,6,7,8,9,10,20,30,40,50,60,70,80,90,100,200,300,400,500,600,700,800,900,1000,2000,3000,4000,5000,6000,7000,8000,9000,10000,20000,30000,40000,50000,60000,70000,80000,90000,100000,200000,300000],
"labelExpr":"datum.value==10?'10¹':datum.value==100?'10²':datum.value==1000?'10³':datum.value==10000?'10⁴':datum.value==100000?'10⁵':''",
"tickSize":{"condition":{"test":"indexof([10,100,1000,10000,100000],datum.value)>=0","value":4},"value":2},
"grid":false,"domain":false,"labelOverlap":false,"labelFlush":false,"labelFont":"Liberation Serif","labelFontSize":15,"labelColor":"black","tickColor":"black","labelPadding":0,"titleFont":"Liberation Serif","titleFontSize":15,"titleFontWeight":"normal","titleColor":"black","titlePadding":1}},
"y":{"field":"J","type":"quantitative","scale":{"type":"log","domain":[0.01,22440],"nice":false},
"axis":{"title":"J/(GV m² s sr)⁻¹ × (R/GV)²·⁶","values":[0.01,0.02,0.03,0.04,0.05,0.06,0.07,0.08,0.09,0.1,0.2,0.3,0.4,0.5,0.6,0.7,0.8,0.9,1,2,3,4,5,6,7,8,9,10,20,30,40,50,60,70,80,90,100,200,300,400,500,600,700,800,900,1000,2000,3000,4000,5000,6000,7000,8000,9000,10000,20000],
"labelExpr":"datum.value==0.01?'10⁻²':datum.value==0.1?'10⁻¹':datum.value==1?'10⁰':datum.value==10?'10¹':datum.value==100?'10²':datum.value==1000?'10³':datum.value==10000?'10⁴':''",
"tickSize":{"condition":{"test":"indexof([0.01,0.1,1,10,100,1000,10000],datum.value)>=0","value":4},"value":2},
"grid":false,"domain":false,"labelOverlap":false,"labelFlush":false,"labelFont":"Liberation Serif","labelFontSize":15,"labelColor":"black","tickColor":"black","labelPadding":2,"titleFont":"Liberation Serif","titleFontSize":13.5,"titleFontWeight":"normal","titleColor":"black","titlePadding":7}}
},
"layer":[
{"data":{"name":"mod"},"transform":[{"filter":"isValid(datum.lo)"}],
 "mark":{"type":"area","opacity":0.22},
 "encoding":{"y":{"field":"lo","type":"quantitative","scale":{"type":"log","domain":[0.01,22440],"nice":false},"axis":{"title":"J/(GV m² s sr)⁻¹ × (R/GV)²·⁶"}},"y2":{"field":"hi"},"detail":{"field":"s"},
 "color":{"field":"g","type":"nominal","scale":{"domain":["p","He","O","Fe","lg","lb"],"range":["#ff0000","#bfbf00","#008000","#0000ff","#b3dcb3","#b3b3ff"]},"legend":null}}},
{"data":{"name":"pts"},"transform":[{"filter":"datum.g=='lg'||datum.g=='lb'"}],
 "mark":{"type":"line","strokeWidth":1.3},
 "encoding":{"detail":{"field":"s"},"color":{"field":"g","type":"nominal","legend":null}}},
{"data":{"name":"pts"},"transform":[{"filter":"(datum.g=='lg'||datum.g=='lb')&&isValid(datum.lo)"}],
 "mark":{"type":"rule","strokeWidth":1.5},
 "encoding":{"y":{"field":"lo","type":"quantitative","scale":{"type":"log","domain":[0.01,22440],"nice":false},"axis":{"title":"J/(GV m² s sr)⁻¹ × (R/GV)²·⁶"}},"y2":{"field":"hi"},"color":{"field":"g","type":"nominal","legend":null}}},
{"data":{"name":"pts"},"transform":[{"filter":"datum.g=='lg'||datum.g=='lb'"}],
 "mark":{"type":"point","filled":true,"opacity":1},
 "encoding":{"color":{"field":"g","type":"nominal","legend":null},
 "shape":{"field":"e","type":"nominal","scale":{"domain":["HEAO","PAMELA","AMS-02","CREAM"],"range":["diamond","M0,-1L0.225,-0.309L0.951,-0.309L0.363,0.118L0.588,0.809L0,0.382L-0.588,0.809L-0.363,0.118L-0.951,-0.309L-0.225,-0.309Z","square","circle"]},
  "legend":{"title":null,"orient":"none","legendX":105,"legendY":212,"columns":2,"columnPadding":-6,"rowPadding":4.5,"padding":0,"labelFont":"Liberation Serif","labelFontSize":16,"labelColor":"black","labelOffset":10,"symbolSize":55,"symbolFillColor":"black","symbolStrokeColor":"black","symbolStrokeWidth":0}},
 "size":{"condition":{"test":"datum.e=='PAMELA'","value":110},"value":55}}},
{"data":{"name":"mod"},
 "mark":{"type":"line","strokeWidth":1.6},
 "encoding":{"detail":{"field":"s"},"color":{"field":"g","type":"nominal","legend":null}}},
{"data":{"name":"pts"},"transform":[{"filter":"datum.g!='lg'&&datum.g!='lb'&&isValid(datum.lo)"}],
 "mark":{"type":"rule","strokeWidth":1.5},
 "encoding":{"y":{"field":"lo","type":"quantitative","scale":{"type":"log","domain":[0.01,22440],"nice":false},"axis":{"title":"J/(GV m² s sr)⁻¹ × (R/GV)²·⁶"}},"y2":{"field":"hi"},"color":{"field":"g","type":"nominal","legend":null}}},
{"data":{"name":"pts"},"transform":[{"filter":"datum.g!='lg'&&datum.g!='lb'"}],
 "mark":{"type":"point","filled":true,"opacity":1},
 "encoding":{"color":{"field":"g","type":"nominal","legend":null},
 "shape":{"field":"e","type":"nominal","scale":{"domain":["HEAO","PAMELA","AMS-02","CREAM"],"range":["diamond","M0,-1L0.225,-0.309L0.951,-0.309L0.363,0.118L0.588,0.809L0,0.382L-0.588,0.809L-0.363,0.118L-0.951,-0.309L-0.225,-0.309Z","square","circle"]},
  "legend":{"title":null,"orient":"none","legendX":105,"legendY":212,"columns":2,"columnPadding":-6,"rowPadding":4.5,"padding":0,"labelFont":"Liberation Serif","labelFontSize":16,"labelColor":"black","labelOffset":10,"symbolSize":55,"symbolFillColor":"black","symbolStrokeColor":"black","symbolStrokeWidth":0}},
 "size":{"condition":{"test":"datum.e=='PAMELA'","value":110},"value":55}}},
{"data":{"name":"lbl"},"transform":[{"filter":"datum.t=='p'"}],
 "mark":{"type":"text","font":"Liberation Serif","fontSize":17,"fontStyle":"italic","align":"center","baseline":"middle"},
 "encoding":{"text":{"field":"t"},"color":{"field":"g","type":"nominal","legend":null}}},
{"data":{"name":"lbl"},"transform":[{"filter":"datum.t!='p'"}],
 "mark":{"type":"text","font":"Liberation Serif","fontSize":15,"align":"center","baseline":"middle"},
 "encoding":{"text":{"field":"t"},"color":{"field":"g","type":"nominal","legend":null}}}
]
}
